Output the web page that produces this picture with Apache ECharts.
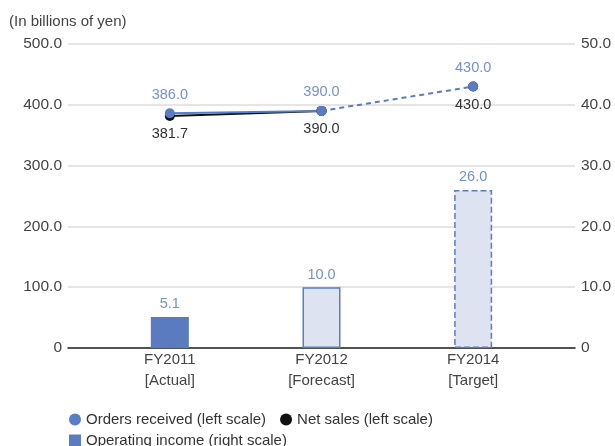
<!DOCTYPE html>
<html><head><meta charset="utf-8">
<script src="https://cdn.jsdelivr.net/npm/echarts@6/dist/echarts.min.js"></script>
<style>html,body{margin:0;padding:0;background:#fff}#c{width:615px;height:446px}</style>
</head><body><div id="c"></div>
<script>
const categories = ['FY2011\n[Actual]', 'FY2012\n[Forecast]', 'FY2014\n[Target]'];
const ordersReceived = [386.0, 390.0, 430.0];
const netSales = [381.7, 390.0, 430.0];
const operatingIncome = [5.1, 10.0, 26.0];
const leftTicks = [0, 100, 200, 300, 400, 500];
const rightTicks = [0, 10, 20, 30, 40, 50];

const BLUE = '#5a7cc4', LABELBLUE = '#7391d3', TXT = '#444';
const FONT = 'Liberation Sans, Arial, sans-serif';
const fmt = v => v === 0 ? '0' : v.toFixed(1);

// solid part = actual + forecast, dashed part = forecast -> target
const solid = arr => arr.map((v, i) => i < 2 ? v : '-');
const dashed = arr => arr.map((v, i) => i >= 1 ? v : '-');

const chart = echarts.init(document.getElementById('c'), null, {renderer: 'canvas'});
chart.setOption({
  animation: false,
  textStyle: {fontFamily: FONT},
  title: {text: '(In billions of yen)', left: 4, top: 9,
    textStyle: {fontSize: 15, fontWeight: 'normal', color: TXT, fontFamily: FONT}},
  grid: [
    {left: 68, right: 40, top: 44, bottom: 98},
    {left: 94, right: 66, top: 44, bottom: 98}
  ],
  xAxis: [
    {gridIndex: 0, type: 'category', data: [''], axisLine: {lineStyle: {color: '#222', width: 1.5}},
     axisTick: {show: false}, axisLabel: {show: false}},
    {gridIndex: 1, type: 'category', data: categories, axisLine: {show: false}, axisTick: {show: false},
     axisLabel: {color: TXT, fontSize: 15, lineHeight: 21, margin: 1, fontFamily: FONT}}
  ],
  yAxis: [
    {gridIndex: 0, type: 'value', min: leftTicks[0], max: leftTicks[leftTicks.length-1], interval: 100, position: 'left',
     axisLine: {show: false}, axisTick: {show: false},
     axisLabel: {formatter: fmt, color: TXT, fontSize: 15.5, margin: 6, fontFamily: FONT},
     splitLine: {lineStyle: {color: '#ddd', width: 1.5}}},
    {gridIndex: 0, type: 'value', min: rightTicks[0], max: rightTicks[rightTicks.length-1], interval: 10, position: 'right',
     axisLine: {show: false}, axisTick: {show: false},
     axisLabel: {formatter: fmt, color: TXT, fontSize: 15.5, margin: 6, fontFamily: FONT},
     splitLine: {show: false}},
    {gridIndex: 1, type: 'value', min: 0, max: 500, show: false},
    {gridIndex: 1, type: 'value', min: 0, max: 50, show: false}
  ],
  legend: [
    {left: 64, top: 407, itemWidth: 12, itemHeight: 12, itemGap: 14,
     textStyle: {fontSize: 15, color: '#333', fontFamily: FONT},
     data: [{name: 'Orders received (left scale)', icon: 'circle'}, {name: 'Net sales (left scale)', icon: 'circle'}]},
    {left: 64, top: 428, itemWidth: 12, itemHeight: 12,
     textStyle: {fontSize: 15, color: '#333', fontFamily: FONT},
     data: [{name: 'Operating income (right scale)', icon: 'rect'}]}
  ],
  series: [
    {name: 'Operating income (right scale)', type: 'bar', xAxisIndex: 1, yAxisIndex: 3, barWidth: 38,
     itemStyle: {color: '#5a7bc0'},
     label: {show: true, position: 'top', distance: 5, color: LABELBLUE, fontSize: 14.5, formatter: p => p.value.toFixed(1)},
     data: operatingIncome.map((v, i) => i === 0 ? {value: v} :
       {value: v, itemStyle: {color: '#dde3f0', borderColor: BLUE, borderWidth: 1.5, borderType: i === 2 ? 'dashed' : 'solid'}})},
    {name: 'Net sales (left scale)', type: 'line', xAxisIndex: 1, yAxisIndex: 2, data: solid(netSales),
     symbol: 'circle', symbolSize: 10, itemStyle: {color: '#111'}, lineStyle: {color: '#111', width: 2},
     label: {show: true, position: 'bottom', distance: 6, color: '#333', fontSize: 14.5, formatter: p => p.value.toFixed(1)}},
    {name: 'Net sales (left scale)', type: 'line', xAxisIndex: 1, yAxisIndex: 2, data: dashed(netSales),
     symbol: 'circle', symbolSize: 10, itemStyle: {color: '#111'}, lineStyle: {color: '#111', width: 2, type: [5, 4], opacity: 0},
     label: {show: true, position: 'bottom', distance: 6, color: '#333', fontSize: 14.5,
       formatter: p => p.dataIndex === 2 ? p.value.toFixed(1) : ''}},
    {name: 'Orders received (left scale)', type: 'line', xAxisIndex: 1, yAxisIndex: 2, data: solid(ordersReceived),
     symbol: 'circle', symbolSize: 10, itemStyle: {color: BLUE}, lineStyle: {color: BLUE, width: 2},
     label: {show: true, position: 'top', distance: 6, color: LABELBLUE, fontSize: 14.5, formatter: p => p.value.toFixed(1)}},
    {name: 'Orders received (left scale)', type: 'line', xAxisIndex: 1, yAxisIndex: 2, data: dashed(ordersReceived),
     symbol: 'circle', symbolSize: 10, itemStyle: {color: BLUE}, lineStyle: {color: BLUE, width: 2, type: [5, 4]},
     label: {show: true, position: 'top', distance: 6, color: LABELBLUE, fontSize: 14.5,
       formatter: p => p.dataIndex === 2 ? p.value.toFixed(1) : ''}}
  ]
});
</script></body></html>
